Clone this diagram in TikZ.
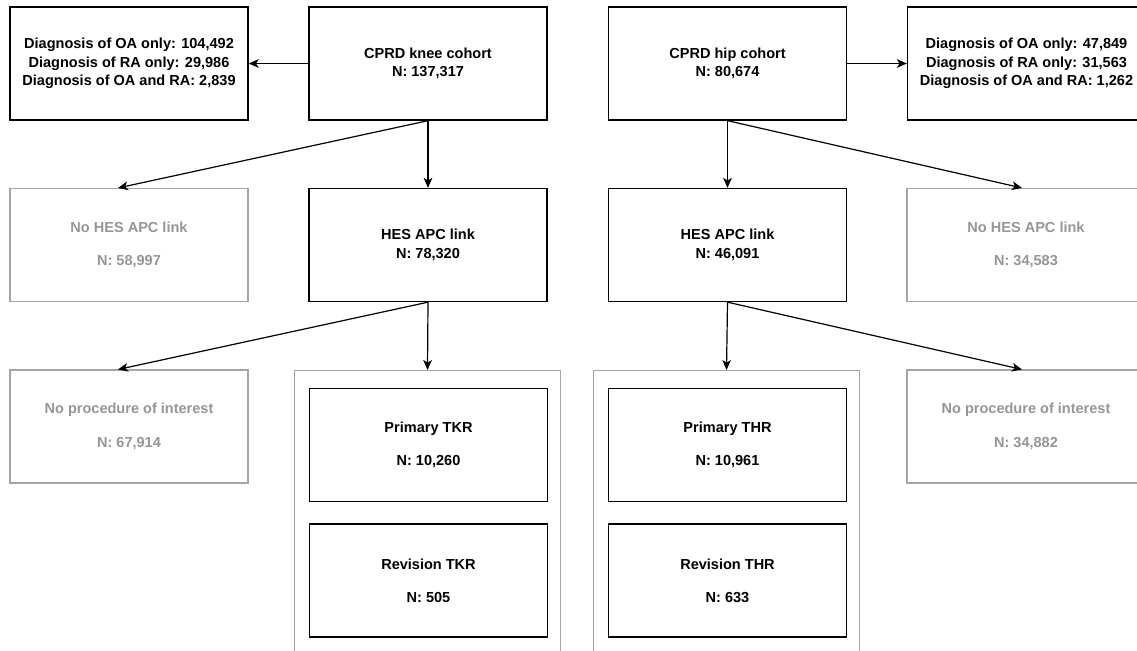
\documentclass[tikz,border=0pt]{standalone}
\usepackage{fontspec}
\setmainfont{Liberation Sans}
\usetikzlibrary{arrows.meta}
\definecolor{lightline}{RGB}{165,165,165}
\definecolor{lighttext}{RGB}{150,150,150}

\begin{document}
\begin{tikzpicture}[x=0.75pt, y=-0.75pt,
    box/.style={draw, line width=1pt, minimum width=178.5pt, minimum height=84.75pt,
      align=center, font=\fontsize{10.9}{14}\selectfont\bfseries},
    greybox/.style={box, draw=lightline, text=lighttext, line width=0.8pt},
    frame/.style={draw=lightline, line width=0.8pt, minimum width=200pt,
      minimum height=240pt, anchor=north},
    arr/.style={-{Stealth[length=7.5pt, width=6.5pt, inset=2pt]}, line width=0.9pt}]
      \clip (0, 0) rectangle (1137, 650);
      % Draw the cohorts
      \node[box] (cK) at (428, 63.5) {CPRD knee cohort\\N: 137,317};
      \node[box] (cH) at (727.5, 63.5) {CPRD hip cohort\\N: 80,674};
      \node[box] (dK) at (129, 63.5) {Diagnosis of OA only: 104,492\\Diagnosis of RA only: 29,986\\Diagnosis of OA and RA: 2,839};
      \node[box] (dH) at (1026.5, 63.5) {Diagnosis of OA only: 47,849\\Diagnosis of RA only: 31,563\\Diagnosis of OA and RA: 1,262};
      % Draw the linkage
      \node[greybox] (nK) at (129, 245) {No HES APC link\\[11pt]N: 58,997};
      \node[box] (hK) at (428, 245) {HES APC link\\N: 78,320};
      \node[box] (hH) at (727.5, 245) {HES APC link\\N: 46,091};
      \node[greybox] (nH) at (1026, 245) {No HES APC link\\[11pt]N: 34,583};
      % Draw the procedures
      \node[greybox] (pK) at (129, 426.5) {No procedure of interest\\[11pt]N: 67,914};
      \node[greybox] (pH) at (1026, 426.5) {No procedure of interest\\[11pt]N: 34,882};
      \node[frame] (fK) at (427.5, 370) {};
      \node[frame] (fH) at (726.5, 370) {};
      \node[box] (tK1) at (428.5, 445) {Primary TKR\\[11pt]N: 10,260};
      \node[box] (tK2) at (428.5, 580.5) {Revision TKR\\[11pt]N: 505};
      \node[box] (tH1) at (727.5, 445) {Primary THR\\[11pt]N: 10,961};
      \node[box] (tH2) at (727.5, 580.5) {Revision THR\\[11pt]N: 633};
      % Draw the arrows
      \draw[arr] (cK.west) -- (dK.east);
      \draw[arr] (cH.east) -- (dH.west);
      \draw[arr] (cK.south) -- (hK.north);
      \draw[arr] (cK.south) -- ([xshift=-8.25pt]nK.north);
      \draw[arr] (cH.south) -- (hH.north);
      \draw[arr] (cH.south) -- ([xshift=-3pt]nH.north);
      \draw[arr] (hK.south) -- (fK.north);
      \draw[arr] (hK.south) -- ([xshift=-8.25pt]pK.north);
      \draw[arr] (hH.south) -- (fH.north);
      \draw[arr] (hH.south) -- ([xshift=-3pt]pH.north);
\end{tikzpicture}
\end{document}
